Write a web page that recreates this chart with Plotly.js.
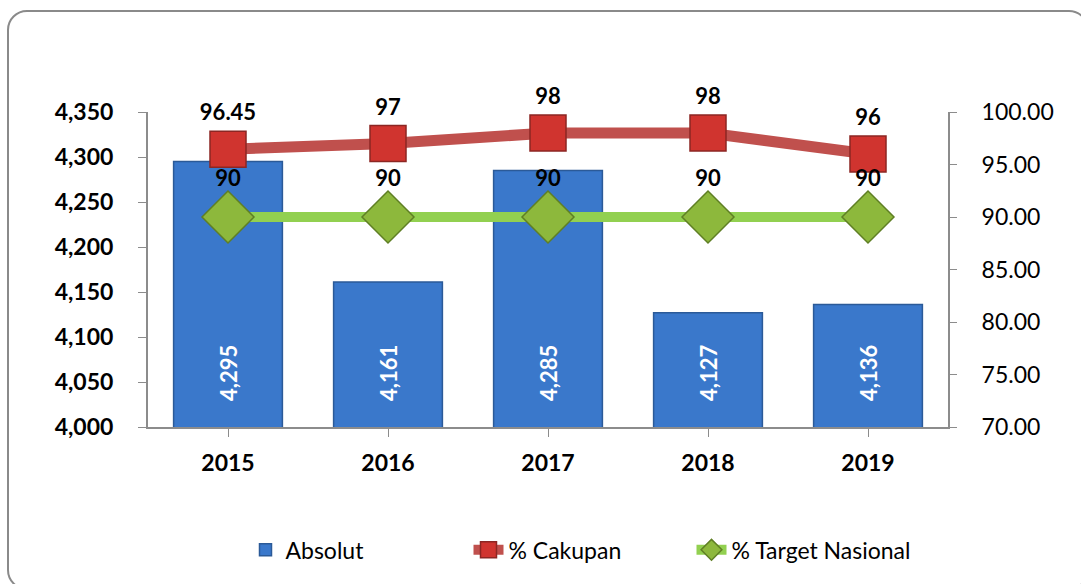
<!DOCTYPE html>
<html>
<head>
<meta charset="utf-8">
<script src="https://cdn.plot.ly/plotly-3.0.1.min.js"></script>
<style>
  html, body { margin: 0; padding: 0; background: #ffffff; overflow: hidden; }
  #wrap { position: relative; width: 1081px; height: 584px; overflow: hidden; }
  #chart { position: absolute; left: 0; top: 0; width: 1081px; height: 584px; }
  #frame { position: absolute; left: 7px; top: 10px; width: 1078px; height: 576px;
           border: 2px solid #8a8a8a; border-radius: 20px; pointer-events: none; }
</style>
</head>
<body>
<div id="wrap">
  <div id="chart"></div>
  <div id="frame"></div>
</div>
<script>
const years = ['2015', '2016', '2017', '2018', '2019'];
const absolut = [4295, 4161, 4285, 4127, 4136];
const cakupan = [96.45, 97, 98, 98, 96];
const cakupanLabels = ['96.45', '97', '98', '98', '96'];
const target = [90, 90, 90, 90, 90];
const targetLabels = ['90', '90', '90', '90', '90'];

const FONT = 'Lato, "Open Sans", sans-serif';

const traces = [
  {
    type: 'bar', name: 'Absolut', x: years.slice(), y: absolut.slice(),
    width: 0.68,
    marker: { color: '#3A78CB', line: { color: '#2B5A98', width: 1.5 } },
    hoverinfo: 'skip'
  },
  {
    type: 'scatter', mode: 'lines+markers+text', name: '% Cakupan',
    x: years.slice(), y: cakupan.slice(), yaxis: 'y2',
    text: cakupanLabels.slice(), textposition: 'top center',
    textfont: { family: FONT, size: 22, color: '#000000', weight: 700 },
    line: { color: '#C0504D', width: 11 },
    marker: { symbol: 'square', size: 36, color: '#D0342F', line: { color: '#8C2623', width: 1.5 } },
    cliponaxis: false
  },
  {
    type: 'scatter', mode: 'lines+markers+text', name: '% Target Nasional',
    x: years.slice(), y: target.slice(), yaxis: 'y2',
    text: targetLabels.slice(), textposition: 'top center',
    textfont: { family: FONT, size: 22, color: '#000000', weight: 700 },
    line: { color: '#92D050', width: 10 },
    marker: { symbol: 'diamond', size: 40, color: '#8DB83C', line: { color: '#5F7F24', width: 1.5 } },
    cliponaxis: false
  }
];

const annotations = years.map((yr, i) => ({
  x: i, y: 4060, xref: 'x', yref: 'y',
  text: absolut[i].toLocaleString('en-US'),
  textangle: -90, showarrow: false,
  font: { family: FONT, size: 22, color: '#ffffff', weight: 700 }
}));

const layout = {
  width: 1081, height: 584,
  margin: { l: 148, r: 133, t: 112, b: 157 },
  paper_bgcolor: '#ffffff', plot_bgcolor: '#ffffff',
  font: { family: FONT, color: '#000000' },
  showlegend: true,
  legend: {
    orientation: 'h', x: 0.54, xanchor: 'center', y: -0.39, yanchor: 'middle',
    font: { family: FONT, size: 23, color: '#000000' },
    entrywidth: 178, entrywidthmode: 'pixels'
  },
  xaxis: {
    type: 'category', showline: true, linecolor: '#8c8c8c', linewidth: 2,
    ticks: 'outside', ticklen: 8, tickcolor: '#8c8c8c',
    tickfont: { family: FONT, size: 23, color: '#000000', weight: 700 },
    ticklabelstandoff: 6,
    showgrid: false, zeroline: false
  },
  yaxis: {
    range: [4000, 4350], dtick: 50, tickformat: ',',
    showline: true, linecolor: '#8c8c8c', linewidth: 2,
    ticks: 'outside', ticklen: 8, tickcolor: '#8c8c8c',
    tickfont: { family: FONT, size: 23, color: '#000000', weight: 700 },
    ticklabelstandoff: 20,
    showgrid: false, zeroline: false
  },
  yaxis2: {
    range: [70, 100], dtick: 5, tickformat: '.2f',
    overlaying: 'y', side: 'right',
    showline: true, linecolor: '#8c8c8c', linewidth: 2,
    ticks: 'outside', ticklen: 7, tickcolor: '#8c8c8c',
    tickfont: { family: FONT, size: 23, color: '#000000' },
    ticklabelstandoff: 20,
    showgrid: false, zeroline: false
  },
  annotations: annotations,
  bargap: 0.32
};

Plotly.newPlot('chart', traces, layout, { displayModeBar: false, staticPlot: true });
</script>
</body>
</html>
